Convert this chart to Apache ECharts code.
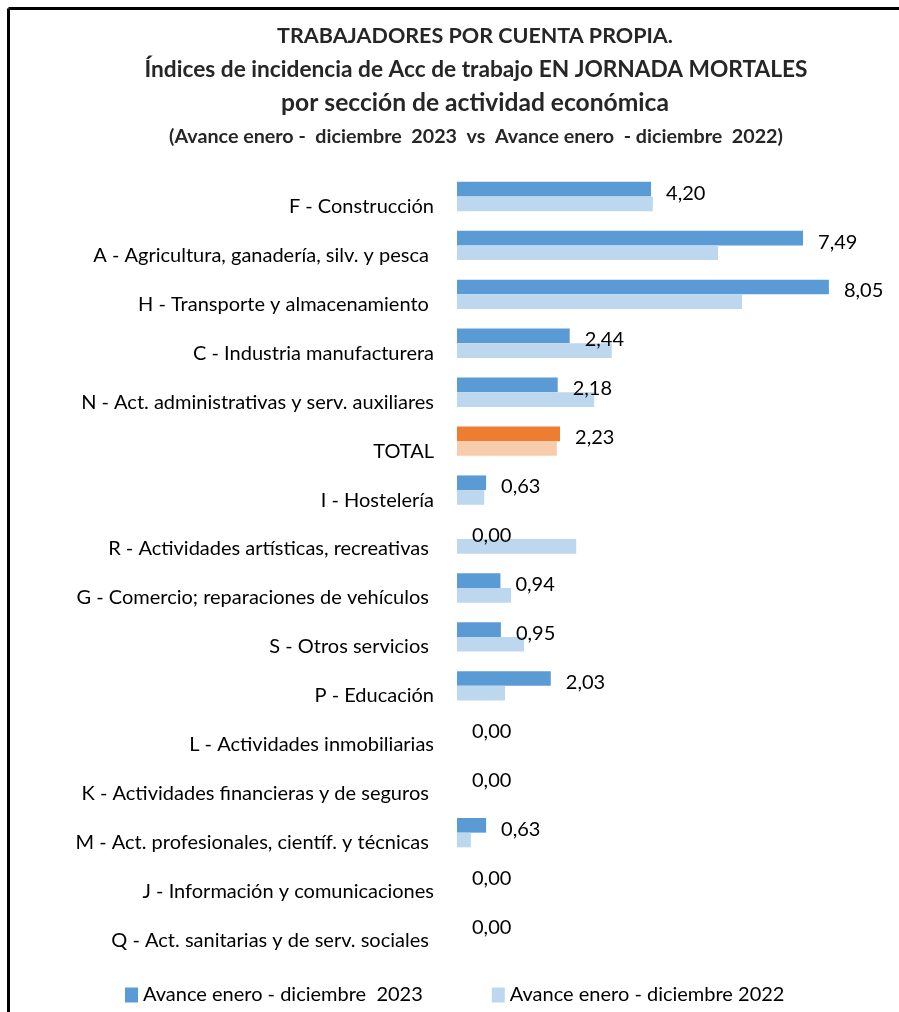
<!DOCTYPE html>
<html>
<head>
<meta charset="utf-8">
<script src="https://cdn.jsdelivr.net/npm/echarts@6/dist/echarts.min.js"></script>
<style>
html,body{margin:0;padding:0;background:#fff;}
#chart{width:899px;height:1012px;}
</style>
</head>
<body>
<div id="chart"></div>
<script>
const categories = [
  "F - Construcción",
  "A - Agricultura, ganadería, silv. y pesca ",
  "H - Transporte y almacenamiento ",
  "C - Industria manufacturera",
  "N - Act. administrativas y serv. auxiliares",
  "TOTAL",
  "I - Hostelería",
  "R - Actividades artísticas, recreativas ",
  "G - Comercio; reparaciones de vehículos ",
  "S - Otros servicios ",
  "P - Educación",
  "L - Actividades inmobiliarias",
  "K - Actividades financieras y de seguros ",
  "M - Act. profesionales, científ. y técnicas ",
  "J - Información y comunicaciones",
  "Q - Act. sanitarias y de serv. sociales "
];
const values2023 = [4.20, 7.49, 8.05, 2.44, 2.18, 2.23, 0.63, 0.00, 0.94, 0.95, 2.03, 0.00, 0.00, 0.63, 0.00, 0.00];
const values2022 = [4.24, 5.65, 6.17, 3.35, 2.97, 2.16, 0.59, 2.58, 1.17, 1.45, 1.04, 0.00, 0.00, 0.30, 0.00, 0.00];
const seriesNames = ["Avance enero - diciembre  2023", "Avance enero - diciembre 2022"];
const titleLines = [
  "TRABAJADORES POR CUENTA PROPIA.",
  "Índices de incidencia de Acc de trabajo EN JORNADA MORTALES",
  "por sección de actividad económica",
  "(Avance enero -  diciembre  2023  vs  Avance enero  - diciembre  2022)"
];

const FONT = "Lato, 'Open Sans', sans-serif";
const C23 = '#5B9BD5', C22 = '#BDD7EE', T23 = '#ED7D31', T22 = '#F8CBAD';

const data23 = values2023.map((v, i) => categories[i] === 'TOTAL' ? {value: v, itemStyle: {color: T23}} : v);
const data22 = values2022.map((v, i) => categories[i] === 'TOTAL' ? {value: v, itemStyle: {color: T22}} : v);

const chart = echarts.init(document.getElementById('chart'), null, {renderer: 'canvas'});
chart.setOption({
  backgroundColor: '#ffffff',
  animation: false,
  title: [
    {text: titleLines[0], left: 470, top: 20, textAlign: 'center', textStyle: {fontFamily: FONT, fontSize: 21.5, fontWeight: 'bold', color: '#262626'}},
    {text: titleLines[1], left: 471, top: 53, textAlign: 'center', textStyle: {fontFamily: FONT, fontSize: 22.7, fontWeight: 'bold', color: '#262626'}},
    {text: titleLines[2], left: 470, top: 86, textAlign: 'center', textStyle: {fontFamily: FONT, fontSize: 24.6, fontWeight: 'bold', color: '#262626'}},
    {text: titleLines[3], left: 471, top: 122, textAlign: 'center', textStyle: {fontFamily: FONT, fontSize: 19.7, fontWeight: 'bold', color: '#262626'}}
  ],
  legend: {
    data: seriesNames,
    left: 120,
    top: 980,
    itemWidth: 13,
    itemHeight: 15,
    itemGap: 69,
    icon: 'rect',
    textStyle: {fontFamily: FONT, fontSize: 20, color: '#000'}
  },
  grid: {left: 457, top: 172, width: 415.8, height: 783, containLabel: false},
  xAxis: {
    type: 'value', min: 0, max: 9,
    show: false
  },
  yAxis: {
    type: 'category',
    data: categories,
    inverse: true,
    axisLine: {show: false},
    axisTick: {show: false},
    axisLabel: {
      fontFamily: FONT, fontSize: 20, color: '#000',
      margin: 23,
      verticalAlign: 'top'
    }
  },
  series: [
    {
      name: seriesNames[0], type: 'bar', data: data23,
      itemStyle: {color: C23},
      barGap: '0%', barCategoryGap: '40%',
      label: {
        show: true, position: 'right', distance: 15, offset: [0, 4],
        fontFamily: FONT, fontSize: 20, color: '#000',
        formatter: p => Number(p.value).toFixed(2).replace('.', ',')
      }
    },
    {
      name: seriesNames[1], type: 'bar', data: data22,
      itemStyle: {color: C22},
      barGap: '0%', barCategoryGap: '40%'
    }
  ],
  graphic: [
    {type: 'line', shape: {x1: 8.5, y1: 8.5, x2: 899, y2: 8.5}, style: {stroke: '#000', lineWidth: 3}},
    {type: 'line', shape: {x1: 8.5, y1: 8.5, x2: 8.5, y2: 1012}, style: {stroke: '#000', lineWidth: 3}}
  ]
});
</script>
</body>
</html>
